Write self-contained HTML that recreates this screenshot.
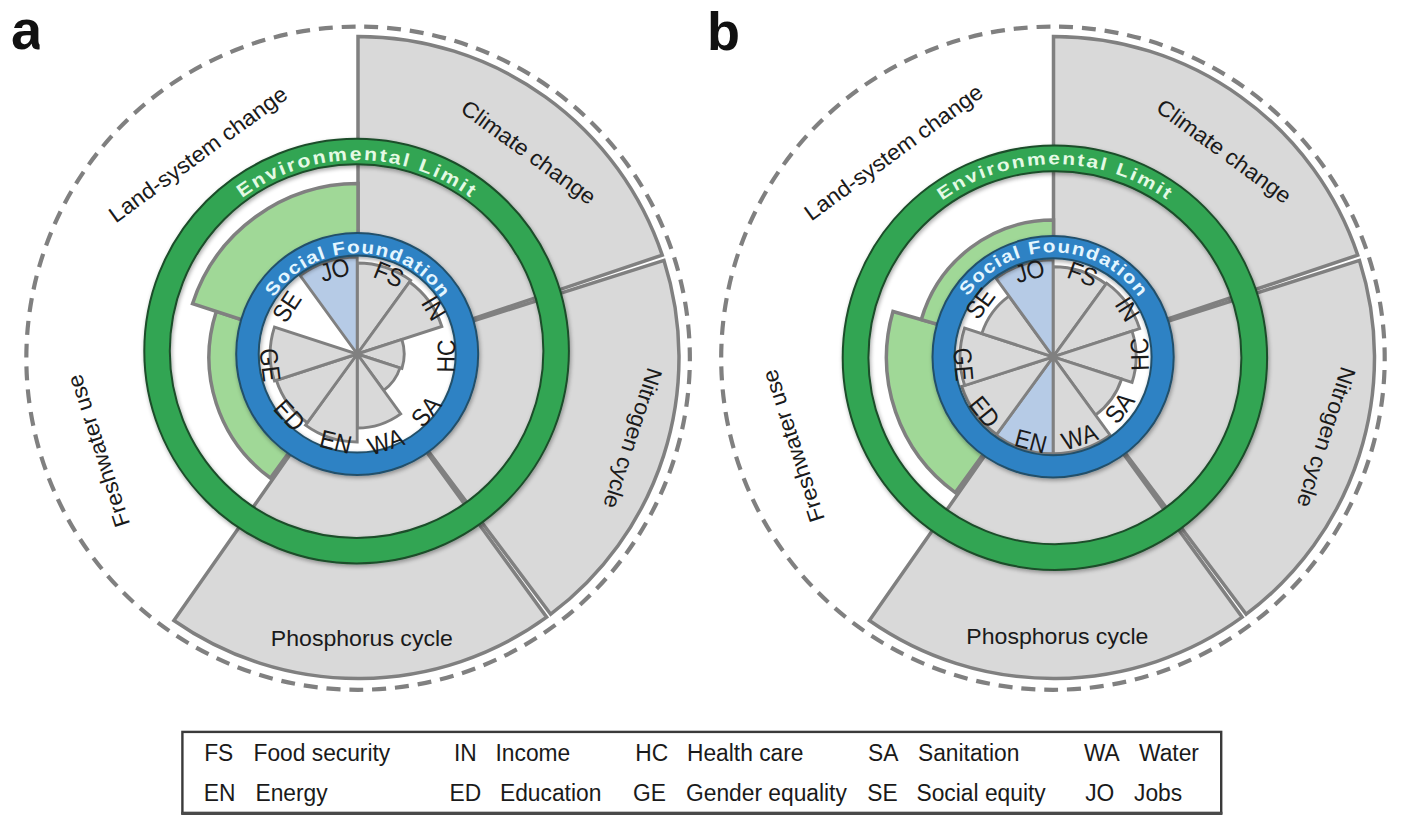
<!DOCTYPE html>
<html><head><meta charset="utf-8"><style>html,body{margin:0;padding:0;background:#fff;}svg{display:block;}</style></head>
<body><svg width="1411" height="815" viewBox="0 0 1411 815">
<defs><filter id="sh" x="-20%" y="-20%" width="140%" height="140%"><feGaussianBlur in="SourceAlpha" stdDeviation="2"/><feOffset dx="1" dy="2" result="b"/><feComponentTransfer><feFuncA type="linear" slope="0.35"/></feComponentTransfer><feMerge><feMergeNode/><feMergeNode in="SourceGraphic"/></feMerge></filter></defs>
<rect width="1411" height="815" fill="#ffffff"/>
<g font-family="Liberation Sans">
<clipPath id="ca"><rect x="0" y="0" width="39.6" height="80"/></clipPath><text x="11" y="48.9" font-size="56" font-weight="bold" fill="#111" clip-path="url(#ca)">a</text>
<text x="707" y="49.7" font-size="54" font-weight="bold" fill="#111">b</text>
<path d="M358.1,26.599999999999966 A331.6,331.6 0 1 1 358.1,689.8 A331.6,331.6 0 1 1 358.1,26.599999999999966" fill="none" stroke="#808080" stroke-width="4.2" stroke-dasharray="14 8.896" stroke-dashoffset="16.748"/>
<path d="M358.00,357.50 L358.00,36.50 A321.00,321.00 0 0 1 662.23,255.11 Z" fill="#d9d9d9" stroke="#808080" stroke-width="3.5" stroke-linejoin="miter"/>
<path d="M358.00,357.50 L663.97,260.44 A321.00,321.00 0 0 1 550.73,614.20 Z" fill="#d9d9d9" stroke="#808080" stroke-width="3.5" stroke-linejoin="miter"/>
<path d="M358.00,357.50 L546.68,617.19 A321.00,321.00 0 0 1 173.88,620.45 Z" fill="#d9d9d9" stroke="#808080" stroke-width="3.5" stroke-linejoin="miter"/>
<path d="M358.00,357.50 L270.42,478.04 A149.00,149.00 0 0 1 216.29,311.46 Z" fill="#a0d897" stroke="#808080" stroke-width="3.5" stroke-linejoin="miter"/>
<path d="M358.00,357.50 L192.52,303.73 A174.00,174.00 0 0 1 358.00,183.50 Z" fill="#a0d897" stroke="#808080" stroke-width="3.5" stroke-linejoin="miter"/>
<text transform="translate(527.60,153.90) rotate(36.00) scale(1.04,1.0)" x="-77.20" y="5.74" font-size="22.2" fill="#1a1a1a">Climate change</text>
<text transform="translate(630.80,438.30) rotate(108.00) scale(1.04,1.0)" x="-70.75" y="5.74" font-size="22.2" fill="#1a1a1a">Nitrogen cycle</text>
<text transform="translate(362.40,640.40) rotate(0.00) scale(1.04,1.0)" x="-88.03" y="5.74" font-size="22.2" fill="#1a1a1a">Phosphorus cycle</text>
<text transform="translate(98.00,450.50) rotate(-108.00) scale(1.04,1.0)" x="-76.91" y="7.93" font-size="22.2" fill="#1a1a1a">Freshwater use</text>
<text transform="translate(199.50,155.50) rotate(-36.00) scale(1.04,1.0)" x="-103.46" y="5.74" font-size="22.2" fill="#1a1a1a">Land-system change</text>
<path d="M144.30,351.10 A212.3,212.3 0 1 1 568.90,351.10 A212.3,212.3 0 1 1 144.30,351.10 Z M169.80,351.10 A186.8,186.8 0 1 0 543.40,351.10 A186.8,186.8 0 1 0 169.80,351.10 Z" fill="#33a552" fill-rule="evenodd" stroke="#1c4d2a" stroke-width="2" filter="url(#sh)"/>
<g font-family="Liberation Sans" font-weight="bold" font-size="18.5" fill="#e4fae4"><text x="0" y="0" transform="translate(247.87,194.07) rotate(-34.70) scale(1.15,1)" text-anchor="middle">E</text><text x="0" y="0" transform="translate(261.23,185.62) rotate(-29.96) scale(1.15,1)" text-anchor="middle">n</text><text x="0" y="0" transform="translate(274.17,178.80) rotate(-25.57) scale(1.15,1)" text-anchor="middle">v</text><text x="0" y="0" transform="translate(284.30,174.31) rotate(-22.24) scale(1.15,1)" text-anchor="middle">i</text><text x="0" y="0" transform="translate(293.00,171.00) rotate(-19.45) scale(1.15,1)" text-anchor="middle">r</text><text x="0" y="0" transform="translate(305.25,167.13) rotate(-15.59) scale(1.15,1)" text-anchor="middle">o</text><text x="0" y="0" transform="translate(320.05,163.63) rotate(-11.03) scale(1.15,1)" text-anchor="middle">n</text><text x="0" y="0" transform="translate(338.03,161.01) rotate(-5.58) scale(1.15,1)" text-anchor="middle">m</text><text x="0" y="0" transform="translate(355.59,160.10) rotate(-0.30) scale(1.15,1)" text-anchor="middle">e</text><text x="0" y="0" transform="translate(370.20,160.58) rotate(4.08) scale(1.15,1)" text-anchor="middle">n</text><text x="0" y="0" transform="translate(382.39,161.85) rotate(7.76) scale(1.15,1)" text-anchor="middle">t</text><text x="0" y="0" transform="translate(393.90,163.78) rotate(11.26) scale(1.15,1)" text-anchor="middle">a</text><text x="0" y="0" transform="translate(404.70,166.26) rotate(14.59) scale(1.15,1)" text-anchor="middle">l</text><text x="0" y="0" transform="translate(423.57,172.22) rotate(20.53) scale(1.15,1)" text-anchor="middle">L</text><text x="0" y="0" transform="translate(434.36,176.65) rotate(24.03) scale(1.15,1)" text-anchor="middle">i</text><text x="0" y="0" transform="translate(447.48,183.11) rotate(28.41) scale(1.15,1)" text-anchor="middle">m</text><text x="0" y="0" transform="translate(460.07,190.55) rotate(32.80) scale(1.15,1)" text-anchor="middle">i</text><text x="0" y="0" transform="translate(467.28,195.44) rotate(35.42) scale(1.15,1)" text-anchor="middle">t</text></g>
<circle cx="357.2" cy="354.0" r="98.5" fill="#ffffff"/>
<path d="M357.20,354.00 L357.20,263.00 A91.00,91.00 0 0 1 410.69,280.38 Z" fill="#d9d9d9" stroke="#808080" stroke-width="2.9" stroke-linejoin="miter"/>
<path d="M357.20,354.00 L409.51,282.00 A89.00,89.00 0 0 1 441.84,326.50 Z" fill="#d9d9d9" stroke="#808080" stroke-width="2.9" stroke-linejoin="miter"/>
<path d="M357.20,354.00 L401.90,339.48 A47.00,47.00 0 0 1 401.90,368.52 Z" fill="#d9d9d9" stroke="#808080" stroke-width="2.9" stroke-linejoin="miter"/>
<path d="M357.20,354.00 L400.00,367.91 A45.00,45.00 0 0 1 383.65,390.41 Z" fill="#d9d9d9" stroke="#808080" stroke-width="2.9" stroke-linejoin="miter"/>
<path d="M357.20,354.00 L400.70,413.87 A74.00,74.00 0 0 1 357.20,428.00 Z" fill="#d9d9d9" stroke="#808080" stroke-width="2.9" stroke-linejoin="miter"/>
<path d="M357.20,354.00 L357.20,442.00 A88.00,88.00 0 0 1 305.47,425.19 Z" fill="#d9d9d9" stroke="#808080" stroke-width="2.9" stroke-linejoin="miter"/>
<path d="M357.20,354.00 L307.24,422.77 A85.00,85.00 0 0 1 276.36,380.27 Z" fill="#d9d9d9" stroke="#808080" stroke-width="2.9" stroke-linejoin="miter"/>
<path d="M357.20,354.00 L274.46,380.88 A87.00,87.00 0 0 1 274.46,327.12 Z" fill="#d9d9d9" stroke="#808080" stroke-width="2.9" stroke-linejoin="miter"/>
<path d="M357.20,354.00 L300.18,275.53 A97.00,97.00 0 0 1 357.20,257.00 Z" fill="#b6cbe6" stroke="#808080" stroke-width="2.9" stroke-linejoin="miter"/>
<path d="M236.20,354.00 A121.0,121.0 0 1 1 478.20,354.00 A121.0,121.0 0 1 1 236.20,354.00 Z M258.70,354.00 A98.5,98.5 0 1 0 455.70,354.00 A98.5,98.5 0 1 0 258.70,354.00 Z" fill="#2e82c4" fill-rule="evenodd" stroke="#23506a" stroke-width="2" filter="url(#sh)"/>
<g font-family="Liberation Sans" font-weight="bold" font-size="18" fill="#e4f6ff"><text x="0" y="0" transform="translate(277.75,291.96) rotate(-52.02) scale(1.15,1)" text-anchor="middle">S</text><text x="0" y="0" transform="translate(287.36,281.31) rotate(-43.85) scale(1.15,1)" text-anchor="middle">o</text><text x="0" y="0" transform="translate(297.46,272.81) rotate(-36.34) scale(1.15,1)" text-anchor="middle">c</text><text x="0" y="0" transform="translate(305.59,267.41) rotate(-30.79) scale(1.15,1)" text-anchor="middle">i</text><text x="0" y="0" transform="translate(314.21,262.83) rotate(-25.24) scale(1.15,1)" text-anchor="middle">a</text><text x="0" y="0" transform="translate(323.23,259.10) rotate(-19.69) scale(1.15,1)" text-anchor="middle">l</text><text x="0" y="0" transform="translate(339.85,254.70) rotate(-9.91) scale(1.15,1)" text-anchor="middle">F</text><text x="0" y="0" transform="translate(353.54,253.27) rotate(-2.08) scale(1.15,1)" text-anchor="middle">o</text><text x="0" y="0" transform="translate(367.30,253.71) rotate(5.75) scale(1.15,1)" text-anchor="middle">u</text><text x="0" y="0" transform="translate(380.87,256.02) rotate(13.58) scale(1.15,1)" text-anchor="middle">n</text><text x="0" y="0" transform="translate(394.00,260.16) rotate(21.41) scale(1.15,1)" text-anchor="middle">d</text><text x="0" y="0" transform="translate(405.95,265.77) rotate(28.92) scale(1.15,1)" text-anchor="middle">a</text><text x="0" y="0" transform="translate(414.72,271.22) rotate(34.80) scale(1.15,1)" text-anchor="middle">t</text><text x="0" y="0" transform="translate(420.68,275.70) rotate(39.03) scale(1.15,1)" text-anchor="middle">i</text><text x="0" y="0" transform="translate(428.36,282.61) rotate(44.91) scale(1.15,1)" text-anchor="middle">o</text><text x="0" y="0" transform="translate(437.42,292.97) rotate(52.74) scale(1.15,1)" text-anchor="middle">n</text></g>
<text transform="translate(334.34,269.85) rotate(344.80) scale(1.0,1.1)" x="-14.32" y="7.92" font-size="23" fill="#1a1a1a">JO</text>
<text transform="translate(389.34,274.45) rotate(22.00) scale(1.0,1.1)" x="-15.11" y="7.92" font-size="23" fill="#1a1a1a">FS</text>
<text transform="translate(433.99,308.22) rotate(59.20) scale(1.0,1.1)" x="-11.62" y="7.91" font-size="23" fill="#1a1a1a">IN</text>
<text transform="translate(446.19,355.55) rotate(-89.00) scale(1.0,1.1)" x="-17.12" y="7.92" font-size="23" fill="#1a1a1a">HC</text>
<text transform="translate(426.34,410.99) rotate(-50.50) scale(1.0,1.1)" x="-15.84" y="7.92" font-size="23" fill="#1a1a1a">SA</text>
<text transform="translate(386.37,441.68) rotate(-18.40) scale(1.0,1.1)" x="-18.55" y="7.91" font-size="23" fill="#1a1a1a">WA</text>
<text transform="translate(335.81,441.73) rotate(13.70) scale(1.0,1.1)" x="-15.98" y="7.91" font-size="23" fill="#1a1a1a">EN</text>
<text transform="translate(289.78,415.56) rotate(47.60) scale(1.0,1.1)" x="-16.37" y="7.91" font-size="23" fill="#1a1a1a">ED</text>
<text transform="translate(269.89,365.03) rotate(82.80) scale(1.0,1.1)" x="-16.70" y="7.92" font-size="23" fill="#1a1a1a">GE</text>
<text transform="translate(286.73,306.65) rotate(303.90) scale(1.0,1.1)" x="-15.37" y="7.92" font-size="23" fill="#1a1a1a">SE</text>
<path d="M1052.95,26.599999999999966 A331.6,331.6 0 1 1 1052.95,689.8 A331.6,331.6 0 1 1 1052.95,26.599999999999966" fill="none" stroke="#808080" stroke-width="4.2" stroke-dasharray="14 8.896" stroke-dashoffset="16.748"/>
<path d="M1053.50,357.50 L1053.50,36.50 A321.00,321.00 0 0 1 1357.73,255.11 Z" fill="#d9d9d9" stroke="#808080" stroke-width="3.5" stroke-linejoin="miter"/>
<path d="M1053.50,357.50 L1359.47,260.44 A321.00,321.00 0 0 1 1246.23,614.20 Z" fill="#d9d9d9" stroke="#808080" stroke-width="3.5" stroke-linejoin="miter"/>
<path d="M1053.50,357.50 L1242.18,617.19 A321.00,321.00 0 0 1 869.38,620.45 Z" fill="#d9d9d9" stroke="#808080" stroke-width="3.5" stroke-linejoin="miter"/>
<path d="M1053.50,357.50 L955.34,492.61 A167.00,167.00 0 0 1 892.97,311.47 Z" fill="#a0d897" stroke="#808080" stroke-width="3.5" stroke-linejoin="miter"/>
<path d="M1053.50,357.50 L921.33,319.60 A137.50,137.50 0 0 1 1053.50,220.00 Z" fill="#a0d897" stroke="#808080" stroke-width="3.5" stroke-linejoin="miter"/>
<text transform="translate(1223.10,152.90) rotate(36.00) scale(1.04,1.0)" x="-77.20" y="5.74" font-size="22.2" fill="#1a1a1a">Climate change</text>
<text transform="translate(1324.30,437.30) rotate(108.00) scale(1.04,1.0)" x="-70.75" y="5.74" font-size="22.2" fill="#1a1a1a">Nitrogen cycle</text>
<text transform="translate(1057.90,638.40) rotate(0.00) scale(1.04,1.0)" x="-88.03" y="5.74" font-size="22.2" fill="#1a1a1a">Phosphorus cycle</text>
<text transform="translate(792.80,445.50) rotate(-108.00) scale(1.04,1.0)" x="-76.91" y="7.93" font-size="22.2" fill="#1a1a1a">Freshwater use</text>
<text transform="translate(895.00,153.50) rotate(-36.00) scale(1.04,1.0)" x="-103.46" y="5.74" font-size="22.2" fill="#1a1a1a">Land-system change</text>
<path d="M842.70,357.70 A212.2,212.2 0 1 1 1267.10,357.70 A212.2,212.2 0 1 1 842.70,357.70 Z M868.40,357.70 A186.5,186.5 0 1 0 1241.40,357.70 A186.5,186.5 0 1 0 868.40,357.70 Z" fill="#33a552" fill-rule="evenodd" stroke="#1c4d2a" stroke-width="2" filter="url(#sh)"/>
<g font-family="Liberation Sans" font-weight="bold" font-size="17.5" fill="#e4fae4"><text x="0" y="0" transform="translate(947.84,196.52) rotate(-33.59) scale(1.2,1)" text-anchor="middle">E</text><text x="0" y="0" transform="translate(961.10,188.45) rotate(-29.00) scale(1.2,1)" text-anchor="middle">n</text><text x="0" y="0" transform="translate(973.91,181.97) rotate(-24.74) scale(1.2,1)" text-anchor="middle">v</text><text x="0" y="0" transform="translate(983.89,177.70) rotate(-21.53) scale(1.2,1)" text-anchor="middle">i</text><text x="0" y="0" transform="translate(992.44,174.56) rotate(-18.83) scale(1.2,1)" text-anchor="middle">r</text><text x="0" y="0" transform="translate(1004.50,170.88) rotate(-15.10) scale(1.2,1)" text-anchor="middle">o</text><text x="0" y="0" transform="translate(1019.05,167.55) rotate(-10.68) scale(1.2,1)" text-anchor="middle">n</text><text x="0" y="0" transform="translate(1036.72,165.06) rotate(-5.39) scale(1.2,1)" text-anchor="middle">m</text><text x="0" y="0" transform="translate(1053.98,164.20) rotate(-0.27) scale(1.2,1)" text-anchor="middle">e</text><text x="0" y="0" transform="translate(1068.33,164.67) rotate(3.98) scale(1.2,1)" text-anchor="middle">n</text><text x="0" y="0" transform="translate(1080.28,165.87) rotate(7.54) scale(1.2,1)" text-anchor="middle">t</text><text x="0" y="0" transform="translate(1091.57,167.71) rotate(10.92) scale(1.2,1)" text-anchor="middle">a</text><text x="0" y="0" transform="translate(1102.17,170.06) rotate(14.14) scale(1.2,1)" text-anchor="middle">l</text><text x="0" y="0" transform="translate(1120.69,175.73) rotate(19.88) scale(1.2,1)" text-anchor="middle">L</text><text x="0" y="0" transform="translate(1131.33,179.93) rotate(23.26) scale(1.2,1)" text-anchor="middle">i</text><text x="0" y="0" transform="translate(1144.30,186.09) rotate(27.52) scale(1.2,1)" text-anchor="middle">m</text><text x="0" y="0" transform="translate(1156.77,193.19) rotate(31.77) scale(1.2,1)" text-anchor="middle">i</text><text x="0" y="0" transform="translate(1163.92,197.83) rotate(34.29) scale(1.2,1)" text-anchor="middle">t</text></g>
<circle cx="1053.1" cy="356.8" r="98.5" fill="#ffffff"/>
<path d="M1053.10,356.80 L1053.10,266.80 A90.00,90.00 0 0 1 1106.00,283.99 Z" fill="#d9d9d9" stroke="#808080" stroke-width="2.9" stroke-linejoin="miter"/>
<path d="M1053.10,356.80 L1106.59,283.18 A91.00,91.00 0 0 1 1139.65,328.68 Z" fill="#d9d9d9" stroke="#808080" stroke-width="2.9" stroke-linejoin="miter"/>
<path d="M1053.10,356.80 L1132.04,331.15 A83.00,83.00 0 0 1 1132.04,382.45 Z" fill="#d9d9d9" stroke="#808080" stroke-width="2.9" stroke-linejoin="miter"/>
<path d="M1053.10,356.80 L1121.58,379.05 A72.00,72.00 0 0 1 1095.42,415.05 Z" fill="#d9d9d9" stroke="#808080" stroke-width="2.9" stroke-linejoin="miter"/>
<path d="M1053.10,356.80 L1110.12,435.27 A97.00,97.00 0 0 1 1053.10,453.80 Z" fill="#d9d9d9" stroke="#808080" stroke-width="2.9" stroke-linejoin="miter"/>
<path d="M1053.10,356.80 L1053.10,453.80 A97.00,97.00 0 0 1 996.08,435.27 Z" fill="#b6cbe6" stroke="#808080" stroke-width="2.9" stroke-linejoin="miter"/>
<path d="M1053.10,356.80 L996.67,434.47 A96.00,96.00 0 0 1 961.80,386.47 Z" fill="#d9d9d9" stroke="#808080" stroke-width="2.9" stroke-linejoin="miter"/>
<path d="M1053.10,356.80 L964.65,385.54 A93.00,93.00 0 0 1 964.65,328.06 Z" fill="#d9d9d9" stroke="#808080" stroke-width="2.9" stroke-linejoin="miter"/>
<path d="M1053.10,356.80 L981.77,333.62 A75.00,75.00 0 0 1 1009.02,296.12 Z" fill="#d9d9d9" stroke="#808080" stroke-width="2.9" stroke-linejoin="miter"/>
<path d="M1053.10,356.80 L996.08,278.33 A97.00,97.00 0 0 1 1053.10,259.80 Z" fill="#b6cbe6" stroke="#808080" stroke-width="2.9" stroke-linejoin="miter"/>
<path d="M932.50,356.80 A120.6,120.6 0 1 1 1173.70,356.80 A120.6,120.6 0 1 1 932.50,356.80 Z M954.60,356.80 A98.5,98.5 0 1 0 1151.60,356.80 A98.5,98.5 0 1 0 954.60,356.80 Z" fill="#2e82c4" fill-rule="evenodd" stroke="#23506a" stroke-width="2" filter="url(#sh)"/>
<g font-family="Liberation Sans" font-weight="bold" font-size="18" fill="#e4f6ff"><text x="0" y="0" transform="translate(971.84,291.10) rotate(-51.04) scale(1.15,1)" text-anchor="middle">S</text><text x="0" y="0" transform="translate(981.75,280.45) rotate(-43.06) scale(1.15,1)" text-anchor="middle">o</text><text x="0" y="0" transform="translate(992.11,271.95) rotate(-35.71) scale(1.15,1)" text-anchor="middle">c</text><text x="0" y="0" transform="translate(1000.46,266.53) rotate(-30.25) scale(1.15,1)" text-anchor="middle">i</text><text x="0" y="0" transform="translate(1009.29,261.93) rotate(-24.79) scale(1.15,1)" text-anchor="middle">a</text><text x="0" y="0" transform="translate(1018.52,258.19) rotate(-19.32) scale(1.15,1)" text-anchor="middle">l</text><text x="0" y="0" transform="translate(1035.55,253.78) rotate(-9.67) scale(1.15,1)" text-anchor="middle">F</text><text x="0" y="0" transform="translate(1049.44,252.36) rotate(-2.01) scale(1.15,1)" text-anchor="middle">o</text><text x="0" y="0" transform="translate(1063.40,252.81) rotate(5.66) scale(1.15,1)" text-anchor="middle">u</text><text x="0" y="0" transform="translate(1077.17,255.11) rotate(13.32) scale(1.15,1)" text-anchor="middle">n</text><text x="0" y="0" transform="translate(1090.52,259.23) rotate(20.98) scale(1.15,1)" text-anchor="middle">d</text><text x="0" y="0" transform="translate(1102.69,264.82) rotate(28.33) scale(1.15,1)" text-anchor="middle">a</text><text x="0" y="0" transform="translate(1111.70,270.28) rotate(34.11) scale(1.15,1)" text-anchor="middle">t</text><text x="0" y="0" transform="translate(1117.87,274.79) rotate(38.30) scale(1.15,1)" text-anchor="middle">i</text><text x="0" y="0" transform="translate(1125.79,281.72) rotate(44.08) scale(1.15,1)" text-anchor="middle">o</text><text x="0" y="0" transform="translate(1135.15,292.09) rotate(51.74) scale(1.15,1)" text-anchor="middle">n</text></g>
<text transform="translate(1029.32,271.04) rotate(344.50) scale(1.0,1.1)" x="-14.32" y="7.92" font-size="23" fill="#1a1a1a">JO</text>
<text transform="translate(1083.02,274.15) rotate(19.90) scale(1.0,1.1)" x="-15.11" y="7.92" font-size="23" fill="#1a1a1a">FS</text>
<text transform="translate(1127.49,309.23) rotate(57.40) scale(1.0,1.1)" x="-11.62" y="7.91" font-size="23" fill="#1a1a1a">IN</text>
<text transform="translate(1139.75,353.77) rotate(-92.00) scale(1.0,1.1)" x="-17.12" y="7.92" font-size="23" fill="#1a1a1a">HC</text>
<text transform="translate(1119.85,407.47) rotate(-52.80) scale(1.0,1.1)" x="-15.84" y="7.92" font-size="23" fill="#1a1a1a">SA</text>
<text transform="translate(1079.96,436.60) rotate(-18.60) scale(1.0,1.1)" x="-18.55" y="7.91" font-size="23" fill="#1a1a1a">WA</text>
<text transform="translate(1030.80,441.20) rotate(14.80) scale(1.0,1.1)" x="-15.98" y="7.91" font-size="23" fill="#1a1a1a">EN</text>
<text transform="translate(984.79,412.12) rotate(51.00) scale(1.0,1.1)" x="-16.37" y="7.91" font-size="23" fill="#1a1a1a">ED</text>
<text transform="translate(963.33,364.50) rotate(85.10) scale(1.0,1.1)" x="-16.70" y="7.92" font-size="23" fill="#1a1a1a">GE</text>
<text transform="translate(980.16,303.22) rotate(306.30) scale(1.0,1.1)" x="-15.37" y="7.92" font-size="23" fill="#1a1a1a">SE</text>
<g font-size="22.8" fill="#1a1a1a"><rect x="182.4" y="731.9" width="1038.8" height="81.2" fill="#fff" stroke="#3a3a3a" stroke-width="2.4"/><line x1="181.2" y1="813.4" x2="1222.4" y2="813.4" stroke="#4a4a4a" stroke-width="3.4"/><text x="218.7" y="761.1" text-anchor="middle" transform="translate(0,761.1) scale(1,1.05) translate(0,-761.1)">FS</text><text x="253.5" y="761.1" transform="translate(0,761.1) scale(1,1.05) translate(0,-761.1)">Food security</text><text x="465.3" y="761.1" text-anchor="middle" transform="translate(0,761.1) scale(1,1.05) translate(0,-761.1)">IN</text><text x="495.5" y="761.1" transform="translate(0,761.1) scale(1,1.05) translate(0,-761.1)">Income</text><text x="651.7" y="761.1" text-anchor="middle" transform="translate(0,761.1) scale(1,1.05) translate(0,-761.1)">HC</text><text x="687.0" y="761.1" transform="translate(0,761.1) scale(1,1.05) translate(0,-761.1)">Health care</text><text x="883.2" y="761.1" text-anchor="middle" transform="translate(0,761.1) scale(1,1.05) translate(0,-761.1)">SA</text><text x="918.0" y="761.1" transform="translate(0,761.1) scale(1,1.05) translate(0,-761.1)">Sanitation</text><text x="1101.9" y="761.1" text-anchor="middle" transform="translate(0,761.1) scale(1,1.05) translate(0,-761.1)">WA</text><text x="1139.0" y="761.1" transform="translate(0,761.1) scale(1,1.05) translate(0,-761.1)">Water</text><text x="219.6" y="801.2" text-anchor="middle" transform="translate(0,801.2) scale(1,1.05) translate(0,-801.2)">EN</text><text x="255.5" y="801.2" transform="translate(0,801.2) scale(1,1.05) translate(0,-801.2)">Energy</text><text x="465.4" y="801.2" text-anchor="middle" transform="translate(0,801.2) scale(1,1.05) translate(0,-801.2)">ED</text><text x="500.0" y="801.2" transform="translate(0,801.2) scale(1,1.05) translate(0,-801.2)">Education</text><text x="649.6" y="801.2" text-anchor="middle" transform="translate(0,801.2) scale(1,1.05) translate(0,-801.2)">GE</text><text x="686.0" y="801.2" transform="translate(0,801.2) scale(1,1.05) translate(0,-801.2)">Gender equality</text><text x="882.5" y="801.2" text-anchor="middle" transform="translate(0,801.2) scale(1,1.05) translate(0,-801.2)">SE</text><text x="916.5" y="801.2" transform="translate(0,801.2) scale(1,1.05) translate(0,-801.2)">Social equity</text><text x="1099.7" y="801.2" text-anchor="middle" transform="translate(0,801.2) scale(1,1.05) translate(0,-801.2)">JO</text><text x="1134.0" y="801.2" transform="translate(0,801.2) scale(1,1.05) translate(0,-801.2)">Jobs</text></g>
</g>
</svg></body></html>
